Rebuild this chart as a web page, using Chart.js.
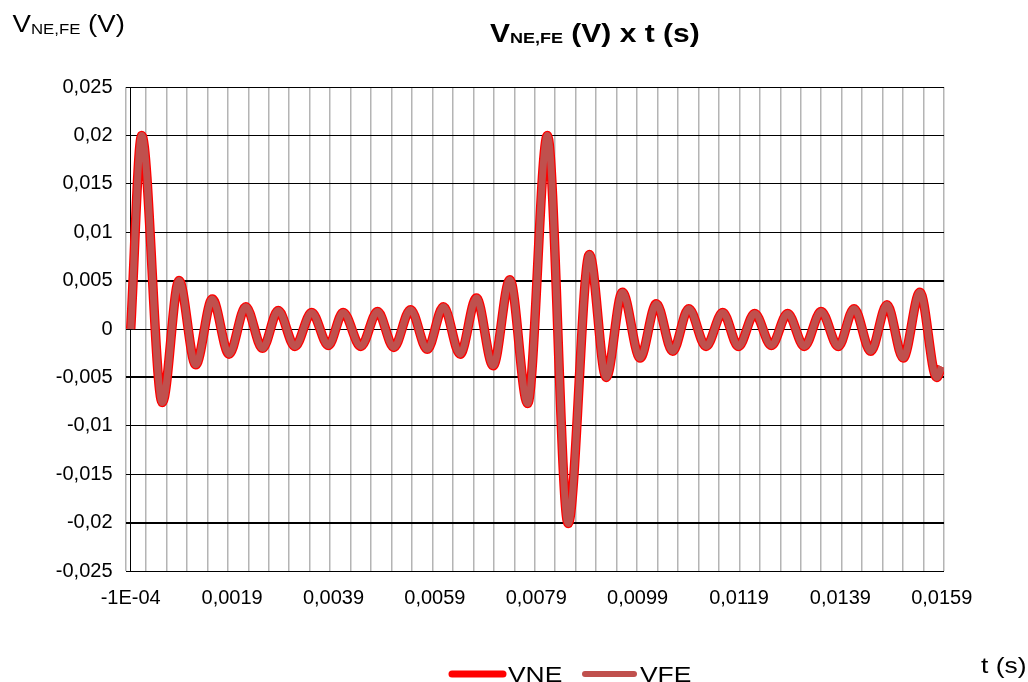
<!DOCTYPE html>
<html>
<head>
<meta charset="utf-8">
<script src="https://cdn.jsdelivr.net/npm/chart.js@4"></script>
<style>
  html, body { margin: 0; padding: 0; background: #fff; }
  #wrap { width: 1028px; height: 682px; }
</style>
</head>
<body>
<div id="wrap"><canvas id="chart" width="1028" height="682"></canvas></div>
<script>
// values (peaks, troughs, ends)
const tValues = [
  -0.0001, 0.000117, 0.000523, 0.000853, 0.001182, 0.00151, 0.00184, 0.00217,
  0.0025, 0.00281, 0.00314, 0.00347, 0.0038, 0.00409, 0.00444, 0.00477,
  0.00509, 0.00542, 0.00575, 0.00607, 0.0064, 0.00672, 0.00705, 0.00738,
  0.00773, 0.00812, 0.00853, 0.00895, 0.00928, 0.0096, 0.00995, 0.01027,
  0.01059, 0.01091, 0.01125, 0.01158, 0.01189, 0.01221, 0.01254, 0.01286,
  0.01319, 0.01352, 0.01386, 0.01417, 0.0145, 0.01482, 0.01514, 0.01547,
  0.0158, 0.0159
];
const vneValues = [
  0, 0.0200, -0.0076, 0.0050, -0.0037, 0.0031, -0.0026, 0.0023,
  -0.0020, 0.0019, -0.0018, 0.0017, -0.0017, 0.0017, -0.0018, 0.0018,
  -0.0019, 0.0020, -0.0021, 0.0023, -0.0026, 0.0032, -0.0038, 0.0051,
  -0.0077, 0.0200, -0.0201, 0.0077, -0.0050, 0.0038, -0.0030, 0.0026,
  -0.0023, 0.0021, -0.0018, 0.0017, -0.0018, 0.0016, -0.0017, 0.0016,
  -0.0018, 0.0018, -0.0018, 0.0021, -0.0023, 0.0025, -0.0030, 0.0038,
  -0.0050, -0.0039
];
const vfeValues = [
  0, 0.0200, -0.0076, 0.0050, -0.0037, 0.0031, -0.0026, 0.0023,
  -0.0020, 0.0019, -0.0018, 0.0017, -0.0017, 0.0017, -0.0018, 0.0018,
  -0.0019, 0.0020, -0.0021, 0.0023, -0.0026, 0.0032, -0.0038, 0.0051,
  -0.0077, 0.0200, -0.0201, 0.0077, -0.0050, 0.0038, -0.0030, 0.0026,
  -0.0023, 0.0021, -0.0018, 0.0017, -0.0018, 0.0016, -0.0017, 0.0016,
  -0.0018, 0.0018, -0.0018, 0.0021, -0.0023, 0.0025, -0.0030, 0.0038,
  -0.0050, -0.0039
];
const seriesNames = ['VNE', 'VFE'];

const xTickValues = [-0.0001, 0.0019, 0.0039, 0.0059, 0.0079, 0.0099, 0.0119, 0.0139, 0.0159];
const xTickLabels = ['-1E-04', '0,0019', '0,0039', '0,0059', '0,0079', '0,0099', '0,0119', '0,0139', '0,0159'];
const yTickValues = [-0.025, -0.02, -0.015, -0.01, -0.005, 0, 0.005, 0.01, 0.015, 0.02, 0.025];
const yTickLabels = ['-0,025', '-0,02', '-0,015', '-0,01', '-0,005', '0', '0,005', '0,01', '0,015', '0,02', '0,025'];

// x range of the plot box and number of vertical grid bands
const X_MIN = -0.000203;
const X_MAX = 0.015945;
const GRID_BANDS = 40;

const FONT = 'Liberation Sans, Arial, sans-serif';
const NE_COLOR = '#ff0000';
const FE_COLOR = '#c0504d';

function points(vals) {
  return tValues.map((t, i) => ({ x: t, y: vals[i] }));
}

// draws text pieces side by side, a bit wider like the original
function stretchedText(ctx, parts, x, y, sx) {
  ctx.save();
  ctx.translate(x, y);
  ctx.scale(sx, 1);
  ctx.fillStyle = '#000';
  ctx.textBaseline = 'alphabetic';
  ctx.textAlign = 'left';
  let cx = 0;
  parts.forEach(p => {
    ctx.font = p.font;
    ctx.fillText(p.text, cx, p.dy || 0);
    cx += ctx.measureText(p.text).width;
  });
  ctx.restore();
}

const textPlugin = {
  id: 'texts',
  afterDraw(chart) {
    const ctx = chart.ctx;
    // title
    stretchedText(ctx, [
      { text: 'V', font: 'bold 25px ' + FONT },
      { text: 'NE,FE', font: 'bold 15px ' + FONT, dy: 1.5 },
      { text: ' (V) x t (s)', font: 'bold 25px ' + FONT }
    ], 490, 41.5, 1.2);
    // y axis title
    stretchedText(ctx, [
      { text: 'V', font: '23px ' + FONT },
      { text: 'NE,FE', font: '14px ' + FONT, dy: 1.8 },
      { text: ' (V)', font: '23px ' + FONT }
    ], 12.5, 31.7, 1.2);
    // x axis title
    stretchedText(ctx, [{ text: 't (s)', font: '22px ' + FONT }], 981, 673, 1.2);

    // legend
    const ly = 674;
    ctx.save();
    ctx.lineCap = 'round';
    ctx.strokeStyle = NE_COLOR;
    ctx.lineWidth = 7;
    ctx.beginPath(); ctx.moveTo(452, ly); ctx.lineTo(503, ly); ctx.stroke();
    ctx.strokeStyle = FE_COLOR;
    ctx.lineWidth = 6;
    ctx.beginPath(); ctx.moveTo(585, ly); ctx.lineTo(634, ly); ctx.stroke();
    ctx.restore();
    stretchedText(ctx, [{ text: seriesNames[0], font: '22px ' + FONT }], 508, 682, 1.2);
    stretchedText(ctx, [{ text: seriesNames[1], font: '22px ' + FONT }], 640, 682, 1.2);
  }
};

new Chart(document.getElementById('chart'), {
  type: 'line',
  data: {
    datasets: [
      {
        label: seriesNames[0],
        data: points(vneValues),
        borderColor: NE_COLOR,
        borderWidth: 9.5,
        pointRadius: 0,
        cubicInterpolationMode: 'monotone',
        order: 2
      },
      {
        label: seriesNames[1],
        data: points(vfeValues),
        borderColor: FE_COLOR,
        borderWidth: 7,
        pointRadius: 0,
        cubicInterpolationMode: 'monotone',
        order: 1
      }
    ]
  },
  options: {
    responsive: false,
    animation: false,
    devicePixelRatio: 1,
    layout: { padding: { left: 0, right: 84, top: 87, bottom: 71 } },
    plugins: {
      legend: { display: false },
      tooltip: { enabled: false },
      title: { display: false }
    },
    scales: {
      x: {
        type: 'linear',
        min: X_MIN,
        max: X_MAX,
        border: { display: false },
        afterBuildTicks: (scale) => {
          const ticks = [];
          const step = (X_MAX - X_MIN) / GRID_BANDS;
          for (let k = 0; k <= GRID_BANDS; k++) ticks.push({ value: X_MIN + k * step });
          xTickValues.forEach(v => ticks.push({ value: v }));
          ticks.sort((a, b) => a.value - b.value);
          scale.ticks = ticks;
        },
        afterFit: (scale) => {
          scale.height = 40;
          scale.paddingLeft = 0;
          scale.paddingRight = 0;
        },
        grid: {
          drawTicks: false,
          color: (c) => {
            const v = c.tick && c.tick.value;
            if (v === xTickValues[0]) return '#000';
            if (xTickValues.includes(v)) return 'rgba(0,0,0,0)';
            return '#b4b4b4';
          },
          lineWidth: (c) => {
            const v = c.tick && c.tick.value;
            return v === xTickValues[0] ? 1 : 1.5;
          }
        },
        ticks: {
          autoSkip: false,
          maxRotation: 0,
          padding: 15,
          color: '#000',
          font: { family: FONT, size: 20 },
          callback: (value) => {
            const i = xTickValues.indexOf(value);
            return i >= 0 ? xTickLabels[i] : '';
          }
        }
      },
      y: {
        type: 'linear',
        min: -0.025,
        max: 0.025,
        border: { display: false },
        afterBuildTicks: (scale) => {
          scale.ticks = yTickValues.map(v => ({ value: v }));
        },
        afterFit: (scale) => {
          scale.width = 125.5;
          scale.paddingTop = 0;
          scale.paddingBottom = 0;
        },
        grid: {
          drawTicks: false,
          color: '#000',
          lineWidth: (c) => {
            const v = c.tick && c.tick.value;
            return (v === 0.005 || v === -0.005 || v === -0.02) ? 2 : 1;
          }
        },
        ticks: {
          padding: 13,
          color: '#000',
          font: { family: FONT, size: 20 },
          callback: (value, index) => yTickLabels[index]
        }
      }
    }
  },
  plugins: [textPlugin]
});
</script>
</body>
</html>
